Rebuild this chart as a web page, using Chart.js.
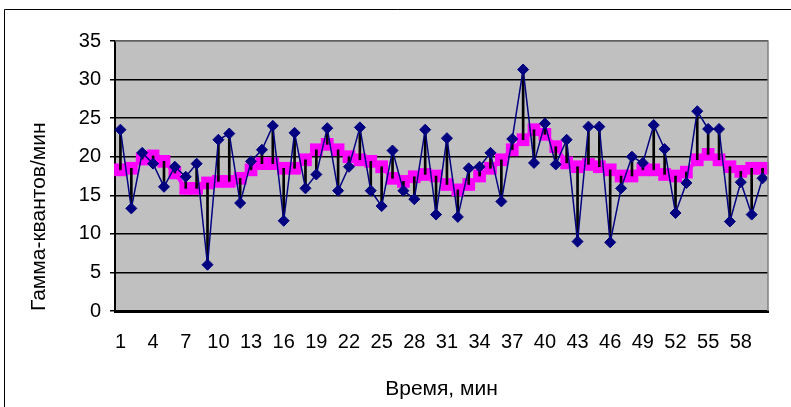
<!DOCTYPE html>
<html>
<head>
<meta charset="utf-8">
<script src="https://cdn.jsdelivr.net/npm/chart.js@4/dist/chart.umd.min.js"></script>
<style>
html,body{margin:0;padding:0;background:#fff;}
#wrap{width:791px;height:407px;position:relative;}
</style>
</head>
<body>
<div id="wrap"><canvas id="c" width="791" height="407"></canvas></div>
<script>
const minutes = Array.from({length: 60}, (_, i) => String(i + 1));
const tickEvery = 3;
const measured = [23.5,13.3,20.5,19.1,16.1,18.7,17.4,19.1,6.0,22.2,
                  23.0,14.0,19.4,20.9,24.0,11.7,23.1,15.9,17.7,23.7,
                  15.6,18.7,23.8,15.6,13.6,20.8,15.6,14.5,23.5,12.5,
                  22.4,12.2,18.5,18.7,20.5,14.2,22.3,31.3,19.2,24.3,
                  19.0,22.2,9.0,23.9,23.9,8.9,15.9,20.0,19.2,24.1,
                  21.0,12.7,16.6,25.9,23.6,23.6,11.6,16.7,12.5,17.2];
const smoothed = [18.3,18.5,19.7,20.1,19.4,17.9,15.9,15.9,16.6,16.8,
                  16.8,17.2,18.3,19.1,19.1,18.5,18.5,19.6,20.9,21.6,
                  20.9,20.0,19.6,19.4,18.7,17.2,16.8,17.4,17.7,17.5,
                  16.4,15.7,16.4,17.5,18.5,19.6,20.9,22.2,23.5,22.9,
                  21.3,19.2,18.7,19.0,18.7,18.3,17.5,17.5,18.3,18.3,
                  17.7,17.5,18.0,19.6,20.3,19.6,18.7,18.1,18.5,18.5];
const yTicks = [0,5,10,15,20,25,30,35];
const hiLo = measured.map((v, i) => [Math.min(v, smoothed[i]), Math.max(v, smoothed[i])]);

const tickFont = {family: '"Liberation Sans Narrow", "Arial Narrow", "Liberation Sans", Arial, sans-serif', size: 20};
const titleFont = {family: '"Liberation Sans", Arial, sans-serif', size: 21};

const bgPlugin = {
  id: 'plotBg',
  beforeDraw(chart) {
    const {ctx, chartArea: a} = chart;
    ctx.save();
    ctx.fillStyle = '#C0C0C0';
    ctx.fillRect(a.left, a.top, a.right - a.left, a.bottom - a.top);
    ctx.restore();
  },
  afterDraw(chart) {
    const {ctx, chartArea: a} = chart;
    ctx.save();
    ctx.strokeStyle = '#808080';
    ctx.lineWidth = 1.5;
    ctx.beginPath();
    ctx.moveTo(a.left, a.top);
    ctx.lineTo(a.right, a.top);
    ctx.lineTo(a.right, a.bottom);
    ctx.stroke();
    ctx.strokeStyle = '#000';
    ctx.lineWidth = 1;
    ctx.beginPath();
    ctx.moveTo(4.5, 407);
    ctx.lineTo(4.5, 9.5);
    ctx.lineTo(791, 9.5);
    ctx.stroke();
    ctx.restore();
  }
};

new Chart(document.getElementById('c'), {
  type: 'line',
  data: {
    labels: minutes,
    datasets: [
      {
        type: 'line',
        data: measured,
        borderColor: '#000080',
        backgroundColor: '#000080',
        borderWidth: 1.5,
        pointStyle: 'rectRot',
        pointRadius: 5.5,
        pointBorderWidth: 1,
        tension: 0,
        order: 0
      },
      {
        type: 'bar',
        data: hiLo,
        backgroundColor: '#000',
        borderWidth: 0,
        barThickness: 2,
        grouped: false,
        order: 1
      },
      {
        type: 'line',
        data: smoothed,
        borderColor: '#FF00FF',
        backgroundColor: '#FF00FF',
        borderWidth: 4,
        pointStyle: 'rect',
        pointRadius: 9,
        pointBorderWidth: 0,
        tension: 0,
        order: 2
      }
    ]
  },
  options: {
    responsive: false,
    animation: false,
    layout: {padding: {left: 0, right: 23, top: 41, bottom: 0}},
    plugins: {legend: {display: false}, tooltip: {enabled: false}},
    scales: {
      x: {
        offset: true,
        afterFit(s) { s.height = 96; },
        grid: {display: false, drawTicks: false},
        border: {display: true, color: '#000', width: 3},
        ticks: {
          autoSkip: false,
          maxRotation: 0,
          padding: 19,
          color: '#000',
          font: tickFont,
          callback(v, i) { return i % tickEvery === 0 ? minutes[i] : ''; }
        },
        title: {
          display: true,
          text: 'Время, мин',
          color: '#000',
          font: titleFont,
          padding: {top: 0, bottom: 5}
        }
      },
      y: {
        min: 0,
        max: 35,
        afterFit(s) { s.width = 115; },
        afterBuildTicks(s) { s.ticks = yTicks.map(v => ({value: v})); },
        grid: {color: '#000', lineWidth: 1.5, tickLength: 5, tickColor: '#000'},
        border: {display: true, color: '#000', width: 2},
        ticks: {
          padding: 9,
          color: '#000',
          font: tickFont
        },
        title: {
          display: true,
          text: 'Гамма-квантов/мин',
          color: '#000',
          font: titleFont,
          align: 'start',
          padding: {top: 27, bottom: 0}
        }
      }
    }
  },
  plugins: [bgPlugin]
});
</script>
</body>
</html>
